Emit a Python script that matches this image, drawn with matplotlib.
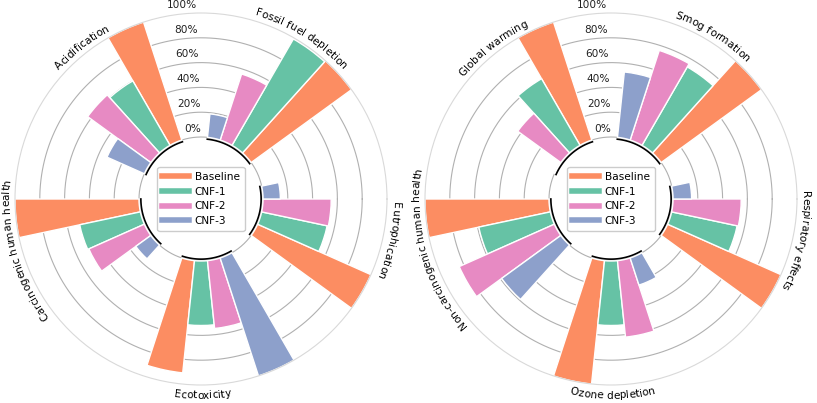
import numpy as np
import matplotlib
matplotlib.use('Agg')
import matplotlib.pyplot as plt
from matplotlib.lines import Line2D
from matplotlib.font_manager import FontProperties, findfont, get_font
try:
    from matplotlib.ft2font import Kerning
    KERN = Kerning.DEFAULT
except ImportError:
    from matplotlib.ft2font import KERNING_DEFAULT as KERN

# Datos (valores relativos, % del máximo)
series = ['Baseline', 'CNF-1', 'CNF-2', 'CNF-3']
colors = ['#fc8d62', '#66c2a5', '#e78ac3', '#8da0cb']

cats_left = ['Acidification', 'Fossil fuel depletion', 'Eutrophication',
             'Ecotoxicity', 'Carcinogenic human health']
baseline_left = [100, 100, 100, 91, 100]
cnf1_left = [60, 99, 54, 52, 50]
cnf2_left = [63, 56, 55, 55, 49]
cnf3_left = [33, 19, 14, 100, 15]

cats_right = ['Global warming', 'Smog formation', 'Respiratory effects',
              'Ozone depletion', 'Non-carcinogenic human health']
baseline_right = [100, 100, 100, 100, 100]
cnf1_right = [62, 73, 54, 52, 59]
cnf2_right = [43, 76, 55, 62, 84]
cnf3_right = [0, 53, 15, 23, 59]

r_ticks = [0, 20, 40, 60, 80, 100]

# Geometría
FIRST = 114      # ángulo de la primera barra (grados)
STEP = 12        # ancho de cada ranura
GROUP = 72       # separación entre categorías
label_angles = [128, 58, -12.5, -89.5, 196]
FS = 7.6
DPI = 100
AX_PX = 372      # tamaño de cada eje polar en px
RMIN, RMAX = -50, 100

font = get_font(findfont(FontProperties(family='DejaVu Sans')))
font.set_size(FS, 72)


def glyph_info(c):
    g = font.load_char(ord(c))
    adv = g.linearHoriAdvance / 65536.0
    xmin, _, xmax, _ = [v / 64.0 for v in g.bbox]
    mid = (xmin + xmax) / 2 if xmax > xmin else adv / 2
    return adv, mid


def kern(a, b):
    return font.get_kerning(font.get_char_index(ord(a)),
                            font.get_char_index(ord(b)), KERN) / 64.0


def r_to_pt(r):
    return (AX_PX / 2) * (r - RMIN) / (RMAX - RMIN) * 72 / DPI


def curved_text(ax, text, center_deg, r, outward=True):
    """Escribe el texto siguiendo el arco de radio r."""
    pos = []
    cum = 0.0
    for k, c in enumerate(text):
        adv, mid = glyph_info(c)
        pos.append(cum + mid)
        cum += adv
        if k + 1 < len(text):
            cum += kern(c, text[k + 1])
    total = cum
    rp = r_to_pt(r)
    span = np.rad2deg(total / rp)
    for c, p in zip(text, pos):
        if c == ' ':
            continue
        d = np.rad2deg(p / rp)
        if outward:   # lectura en sentido horario, parte superior hacia fuera
            ang = center_deg + span / 2 - d
            rot = ang - 90
        else:         # lectura antihoraria (parte inferior del círculo)
            ang = center_deg - span / 2 + d
            rot = ang + 90
        ax.text(np.deg2rad(ang), r, c, rotation=rot, rotation_mode='anchor',
                ha='center', va='baseline', fontsize=FS)


def polar_panel(ax, cats, values):
    ax.set_ylim(RMIN, RMAX)
    ax.set_xticks([])
    ax.set_yticks([])
    ax.grid(False)
    ax.spines['polar'].set_color('#d9d9d9')
    ax.spines['polar'].set_linewidth(0.8)

    theta = np.linspace(0, 2 * np.pi, 400)
    for v in r_ticks[:-1]:
        ax.plot(theta, np.full_like(theta, v), color='#b0b0b0', lw=0.8, zorder=0)

    for i, cat in enumerate(cats):
        base = FIRST - GROUP * i
        for j, vals in enumerate(values):
            ang = np.deg2rad(base + STEP * j)
            ax.bar(ang, vals[i], width=np.deg2rad(STEP), bottom=0,
                   color=colors[j], edgecolor='white', linewidth=1.0, zorder=2)
        # arco negro bajo el grupo
        arc = np.deg2rad(np.linspace(base - STEP / 2, base + STEP * 3.5, 50))
        ax.plot(arc, np.full_like(arc, -1.5), color='black', lw=1.2, zorder=3)

        la = label_angles[i]
        if -135 < la < -45:
            curved_text(ax, cat, la, 111, outward=False)
        else:
            curved_text(ax, cat, la, 104.5, outward=True)

    for v in r_ticks:
        ax.annotate(f'{v}%', xy=(np.deg2rad(92), v), xytext=(2, 6),
                    textcoords='offset points', ha='right', va='center',
                    fontsize=FS, color='#222222')

    handles = [Line2D([0], [0], color=c, lw=4) for c in colors]
    ax.legend(handles, series, loc='center', fontsize=FS, handlelength=2.5,
              handletextpad=0.6, labelspacing=0.45, borderpad=0.45,
              framealpha=1, edgecolor='#cccccc')


fig = plt.figure(figsize=(8.17, 4.03), dpi=DPI)
ax1 = fig.add_axes([15 / 817, 18 / 403, AX_PX / 817, AX_PX / 403], projection='polar')
ax2 = fig.add_axes([425 / 817, 18 / 403, AX_PX / 817, AX_PX / 403], projection='polar')

polar_panel(ax1, cats_left, [baseline_left, cnf1_left, cnf2_left, cnf3_left])
polar_panel(ax2, cats_right, [baseline_right, cnf1_right, cnf2_right, cnf3_right])

fig.savefig('out.png', dpi=DPI)
plt.close(fig)
